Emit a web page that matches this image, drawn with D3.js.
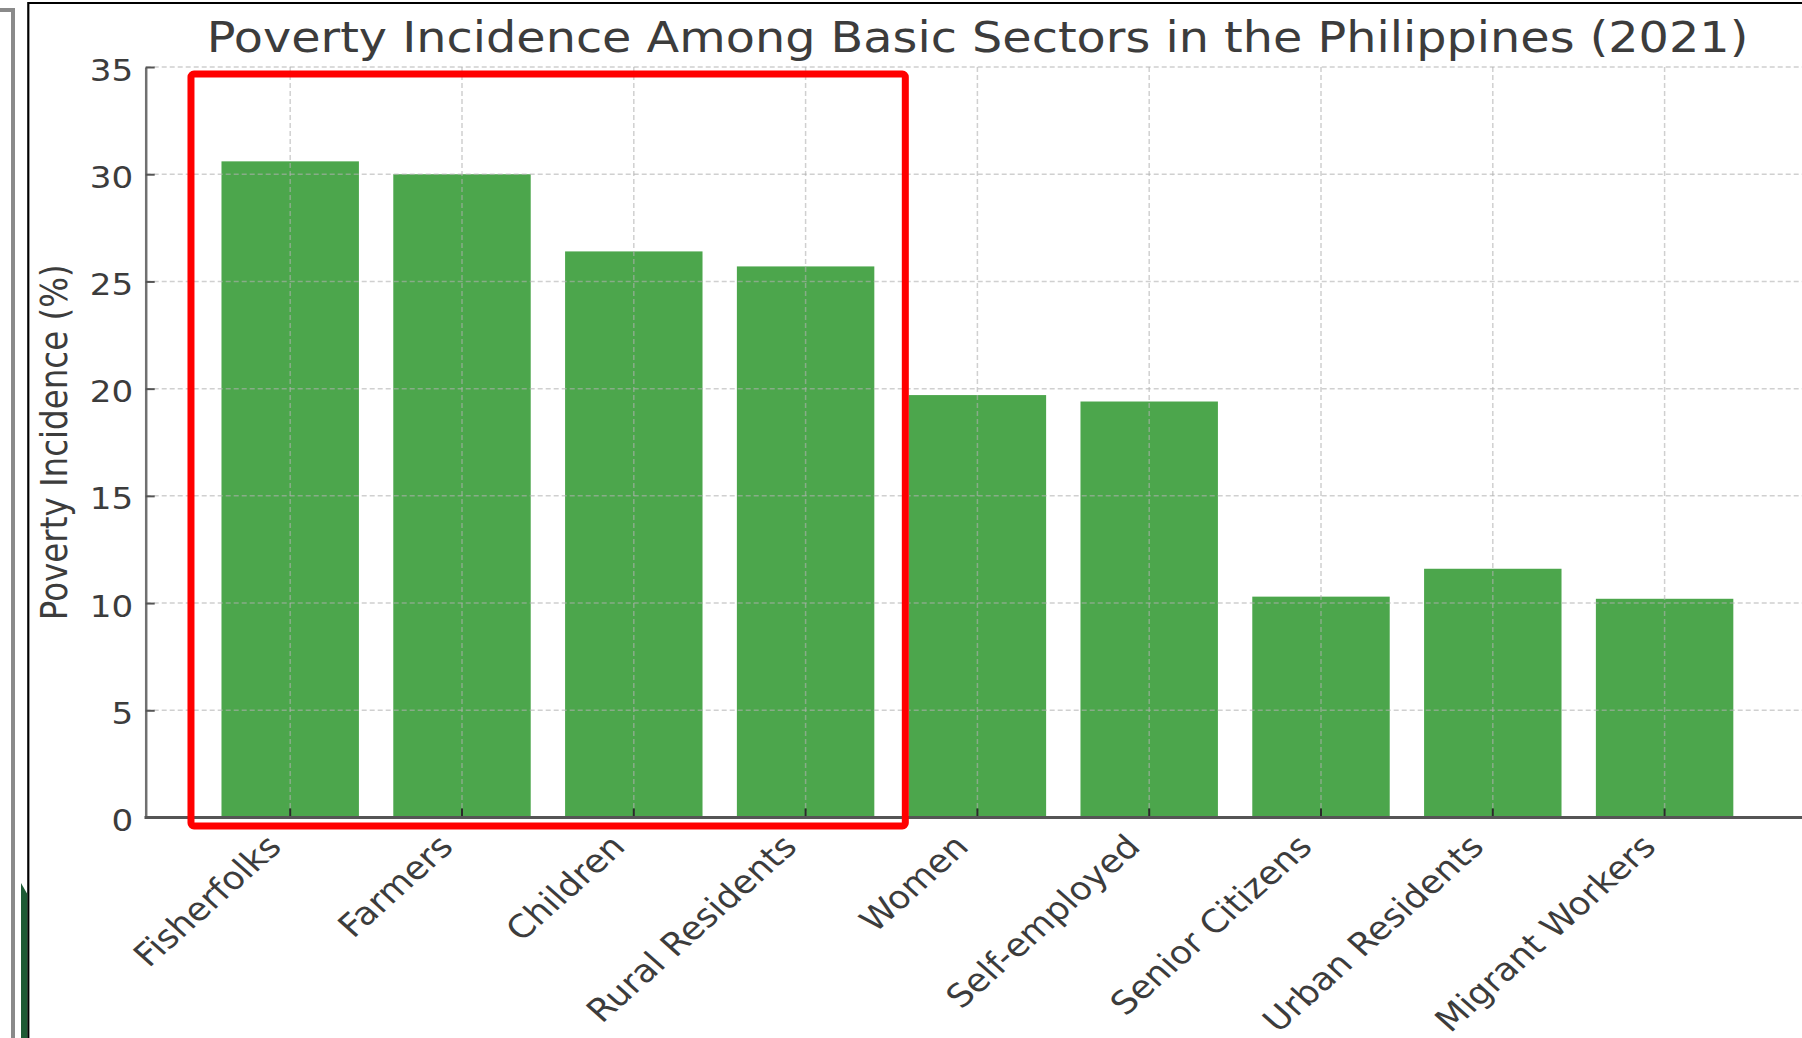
<!DOCTYPE html>
<html>
<head>
<meta charset="utf-8">
<script src="https://cdn.jsdelivr.net/npm/d3@7"></script>
<style>
  html, body { margin: 0; padding: 0; background: #ffffff; }
  svg { display: block; }
  text { font-family: "DejaVu Sans", Verdana, sans-serif; }
</style>
</head>
<body>
<svg id="chart" width="1802" height="1038"></svg>
<script>
// Poverty incidence (%) by basic sector, 2021
const categories = [
  "Fisherfolks", "Farmers", "Children", "Rural Residents", "Women",
  "Self-employed", "Senior Citizens", "Urban Residents", "Migrant Workers"
];
const incidence = [30.6, 30.0, 26.4, 25.7, 19.7, 19.4, 10.3, 11.6, 10.2];
const yTicks = [0, 5, 10, 15, 20, 25, 30, 35];
const highlighted = ["Fisherfolks", "Farmers", "Children", "Rural Residents"];

const titleText = "Poverty Incidence Among Basic Sectors in the Philippines (2021)";
const yLabelText = "Poverty Incidence (%)";

const W = 1802, H = 1038;
const plotLeft = 145.7, plotRight = W, plotTop = 67, plotBottom = 817.5;
const textStretch = 1.12;   // glyphs are drawn slightly wide
const textColor = "#3c3c3c";

const svg = d3.select("#chart");
svg.append("rect").attr("width", W).attr("height", H).attr("fill", "#ffffff");

// scales
const x = d3.scaleBand()
  .domain(categories)
  .range([204.3, 1750.5])
  .paddingInner(0.2)
  .paddingOuter(0.1);
const y = d3.scaleLinear().domain([0, 35]).range([plotBottom, plotTop]);

// ---- frame decoration at the left / top edge ----
const deco = svg.append("g");
deco.append("path")
  .attr("d", `M0,10 H13 V${H}`)
  .attr("fill", "none").attr("stroke", "#8a8a8a").attr("stroke-width", 4);
deco.append("path")
  .attr("d", `M28.3,${H} V3 H${W}`)
  .attr("fill", "none").attr("stroke", "#000").attr("stroke-width", 2.2);
deco.append("path")
  .attr("d", `M21,883 L27.3,894 L27.3,${H} L21,${H} Z`)
  .attr("fill", "#1e5a34");

// ---- bars ----
svg.append("g")
  .selectAll("rect")
  .data(categories.map((c, i) => ({ c, v: incidence[i] })))
  .join("rect")
  .attr("x", d => x(d.c))
  .attr("width", x.bandwidth())
  .attr("y", d => y(d.v))
  .attr("height", d => y(0) - y(d.v))
  .attr("fill", "#008000")
  .attr("fill-opacity", 0.7);

// ---- grid (drawn over the bars) ----
const grid = svg.append("g")
  .attr("stroke", "#b0b0b0")
  .attr("stroke-opacity", 0.6)
  .attr("stroke-width", 1.5)
  .attr("stroke-dasharray", "5,3");
grid.selectAll("line.h")
  .data(yTicks.filter(t => t > 0))
  .join("line")
  .attr("class", "h")
  .attr("x1", plotLeft).attr("x2", plotRight)
  .attr("y1", d => y(d)).attr("y2", d => y(d));
grid.selectAll("line.v")
  .data(categories)
  .join("line")
  .attr("class", "v")
  .attr("x1", d => x(d) + x.bandwidth() / 2)
  .attr("x2", d => x(d) + x.bandwidth() / 2)
  .attr("y1", y(35)).attr("y2", y(0));

// ---- y axis ----
const yAxis = svg.append("g")
  .attr("transform", `translate(${plotLeft},0)`)
  .call(d3.axisLeft(y).tickValues(yTicks).tickSizeInner(-9).tickSizeOuter(0).tickFormat(d3.format("d")));
yAxis.select(".domain").attr("stroke", "#707070").attr("stroke-width", 2.5);
yAxis.selectAll(".tick line").attr("stroke", "#555").attr("stroke-width", 2);
yAxis.selectAll(".tick text")
  .attr("x", 0).attr("dy", null)
  .attr("transform", `translate(-12.5,13) scale(${textStretch},1)`)
  .attr("text-anchor", "end")
  .attr("font-size", 30.5)
  .attr("fill", textColor);

// ---- x axis ----
const xAxis = svg.append("g")
  .attr("transform", `translate(0,${plotBottom})`)
  .call(d3.axisBottom(x).tickSizeInner(-9).tickSizeOuter(0));
xAxis.select(".domain").remove();
xAxis.selectAll(".tick line").attr("stroke", "#2a2a2a").attr("stroke-width", 2);
xAxis.selectAll(".tick text")
  .attr("y", 0).attr("dy", null)
  .attr("transform", `translate(-7,31) scale(${textStretch},1) rotate(-45)`)
  .attr("text-anchor", "end")
  .attr("font-size", 32)
  .attr("fill", textColor);

// bottom spine across the full width
svg.append("line")
  .attr("x1", plotLeft - 1.2).attr("x2", plotRight)
  .attr("y1", y(0)).attr("y2", y(0))
  .attr("stroke", "#555").attr("stroke-width", 2.8);

// ---- title and y label ----
svg.append("text")
  .attr("transform", `translate(977.5,51.5) scale(${textStretch},1)`)
  .attr("text-anchor", "middle")
  .attr("font-size", 42.6)
  .attr("fill", textColor)
  .text(titleText);

svg.append("text")
  .attr("transform", `translate(67,${(plotTop + plotBottom) / 2}) scale(${textStretch},1) rotate(-90)`)
  .attr("text-anchor", "middle")
  .attr("font-size", 32.5)
  .attr("fill", textColor)
  .text(yLabelText);

// ---- highlight box around the leading sectors ----
const first = highlighted[0], last = highlighted[highlighted.length - 1];
const boxLeft = x(first) - 30.5;
const boxRight = x(last) + x.bandwidth() + 31;
svg.append("rect")
  .attr("x", boxLeft)
  .attr("y", y(35) + 7)
  .attr("width", boxRight - boxLeft)
  .attr("height", y(0) + 8.5 - (y(35) + 7))
  .attr("rx", 3)
  .attr("fill", "none")
  .attr("stroke", "#ff0000")
  .attr("stroke-width", 7);
</script>
</body>
</html>
